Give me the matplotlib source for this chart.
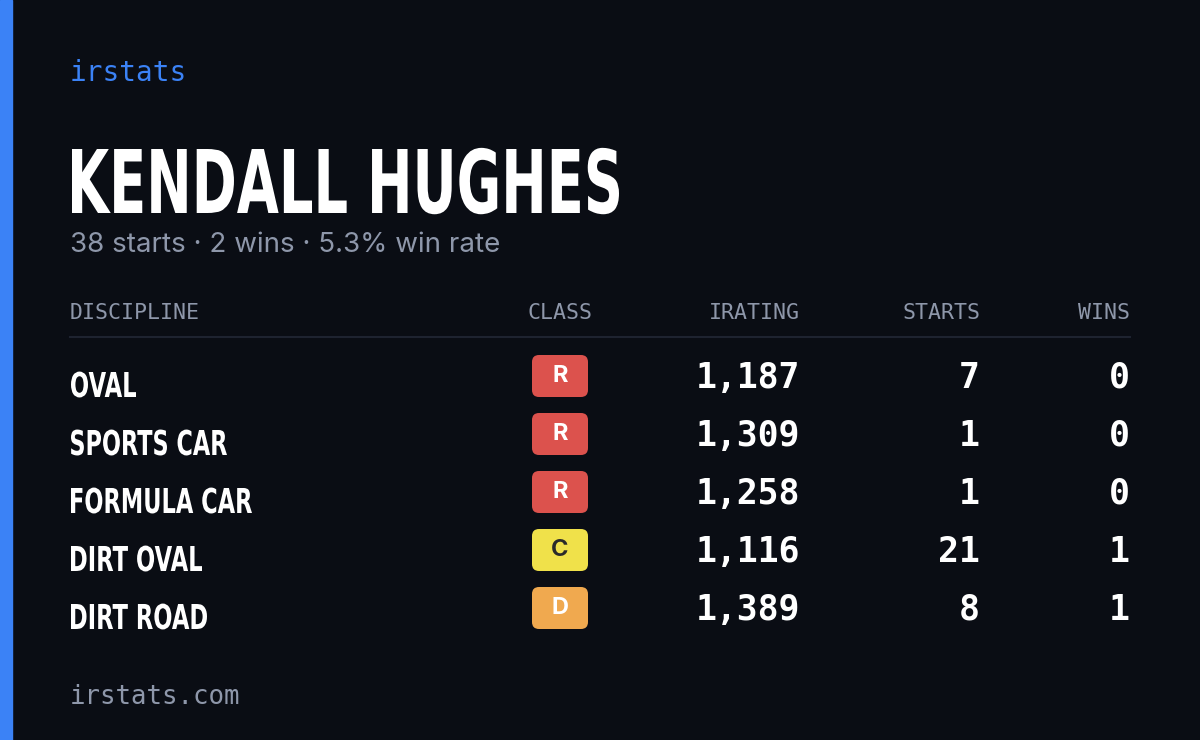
import matplotlib
matplotlib.use("Agg")
import matplotlib.pyplot as plt
from matplotlib.patches import FancyBboxPatch, Rectangle, PathPatch
from matplotlib.textpath import TextPath
from matplotlib.font_manager import FontProperties
from matplotlib.transforms import Affine2D

name = "KENDALL HUGHES"
disciplines = ["OVAL", "SPORTS CAR", "FORMULA CAR", "DIRT OVAL", "DIRT ROAD"]
classes = ["R", "R", "R", "C", "D"]
iratings = [1187, 1309, 1258, 1116, 1389]
starts = [7, 1, 1, 21, 8]
wins = [0, 0, 0, 1, 1]
headers = ["DISCIPLINE", "CLASS", "IRATING", "STARTS", "WINS"]

class_colors = {"R": "#dc524d", "C": "#f0e14a", "D": "#f0a94f"}
class_text = {"R": "white", "C": "#2a2a2a", "D": "white"}

BG = "#0a0d14"; GRAY = "#8e97aa"; BLUE = "#3b82f6"
mono = ["DejaVu Sans Mono"]

fig = plt.figure(figsize=(12, 7.4), dpi=100, facecolor=BG)
ax = fig.add_axes([0, 0, 1, 1]); ax.set_xlim(0, 1200); ax.set_ylim(740, 0); ax.axis("off")
ax.add_patch(Rectangle((0, 0), 12, 740, color=BLUE))

def cond_text(s, x, baseline, cap_px, width_px):
    fp = FontProperties(family="DejaVu Sans", weight="bold")
    tp = TextPath((0, 0), s, size=100, prop=fp)
    ext = tp.get_extents()
    sy = cap_px / 72.9  # DejaVu Bold cap height ~0.729 em
    sx = width_px / ext.width
    tr = Affine2D().translate(-ext.x0, 0).scale(sx, -sy).translate(x, baseline)
    ax.add_patch(PathPatch(tr.transform_path(tp), color="white", lw=0))

ax.text(70, 73, "irstats", color=BLUE, fontsize=20, family=mono, va="center")
cond_text(name, 72, 213, 64, 547)
tot_s, tot_w = sum(starts), sum(wins)
ax.text(70, 245, f"{tot_s} starts · {tot_w} wins · {100*tot_w/tot_s:.1f}% win rate",
        color=GRAY, fontsize=20, family=["Inter", "DejaVu Sans"], va="center")

hx = [70, 560, 800, 980, 1130]; ha = ["left", "center", "right", "right", "right"]
for h, x, a in zip(headers, hx, ha):
    ax.text(x, 313, h, color=GRAY, fontsize=15.5, family=mono, ha=a, va="center")
ax.plot([70, 1130], [337, 337], color="#1e2330", lw=1.5)

disc_w = {"OVAL": 65, "SPORTS CAR": 156, "FORMULA CAR": 181, "DIRT OVAL": 131, "DIRT ROAD": 136}
for i, (d, c, r, s, w) in enumerate(zip(disciplines, classes, iratings, starts, wins)):
    y = 376 + 58 * i
    cond_text(d, 71, y + 21, 25, disc_w[d])
    ax.add_patch(FancyBboxPatch((532, y - 21), 56, 42, boxstyle="round,pad=0,rounding_size=7",
                                color=class_colors[c], lw=0))
    ax.text(560, y, c, color=class_text[c], fontsize=17, weight="bold",
            family=["Inter", "DejaVu Sans"], ha="center", va="center")
    for val, x in ((f"{r:,}", 800), (str(s), 980), (str(w), 1130)):
        ax.text(x, y + 2, val, color="white", fontsize=25, family=mono, weight="bold",
                ha="right", va="center")

ax.text(70, 697, "irstats.com", color=GRAY, fontsize=18.5, family=mono, va="center")
fig.savefig("out.png", dpi=100, facecolor=BG)
